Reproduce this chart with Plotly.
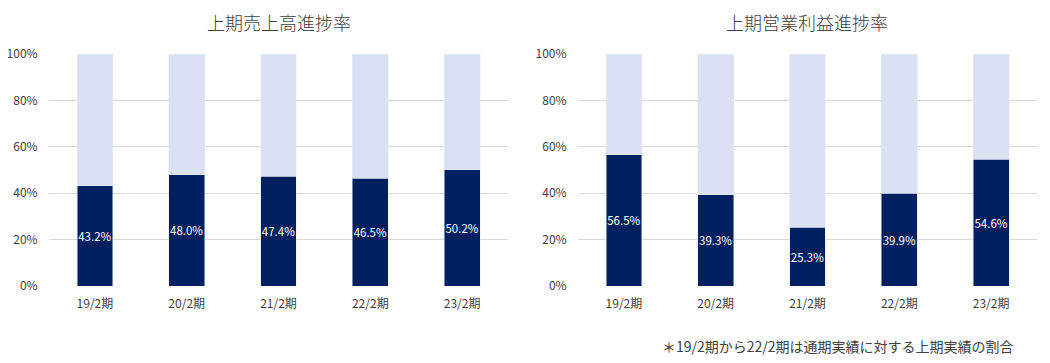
import plotly.graph_objects as go

categories = ["19/2期", "20/2期", "21/2期", "22/2期", "23/2期"]
sales_progress = [43.2, 48.0, 47.4, 46.5, 50.2]
profit_progress = [56.5, 39.3, 25.3, 39.9, 54.6]
titles = ["上期売上高進捗率", "上期営業利益進捗率"]
footnote = "＊19/2期から22/2期は通期実績に対する上期実績の割合"
tick_vals = [0, 20, 40, 60, 80, 100]
tick_text = ["0%", "20%", "40%", "60%", "80%", "100%"]

DARK = "#002060"
LIGHT = "#D9E1F2"
FONT = "Noto Sans CJK JP"

# page body has an 8px margin; positions below are in screenshot pixels
OFF = 8
W, H = 1050 - 2 * OFF, 363 - 2 * OFF


def px(x):
    return (x - OFF) / W


def py(y):
    return 1 - (y - OFF) / H


fig = go.Figure()

for i, vals in enumerate([sales_progress, profit_progress]):
    xa = "x" if i == 0 else "x2"
    ya = "y" if i == 0 else "y2"
    fig.add_trace(go.Bar(
        x=categories, y=vals, marker_color=DARK, width=0.39,
        text=[f"{v:.1f}%" for v in vals], textposition="inside",
        insidetextanchor="middle", textangle=0, constraintext="none",
        textfont=dict(color="white", size=11.5, family=FONT),
        xaxis=xa, yaxis=ya, showlegend=False, hoverinfo="skip"))
    fig.add_trace(go.Bar(
        x=categories, y=[100 - v for v in vals], marker_color=LIGHT, width=0.39,
        xaxis=xa, yaxis=ya, showlegend=False, hoverinfo="skip"))

axis_common_x = dict(showgrid=False, showline=False, zeroline=False, ticks="outside",
                     ticklen=7, tickcolor="rgba(0,0,0,0)", automargin=False,
                     tickfont=dict(size=12, color="#404040", family=FONT), fixedrange=True)
axis_common_y = dict(range=[0, 100], tickvals=tick_vals, ticktext=tick_text,
                     showgrid=True, gridcolor="#D9D9D9", gridwidth=1, zeroline=False,
                     showline=False, ticks="outside", ticklen=8, tickcolor="rgba(0,0,0,0)",
                     automargin=False,
                     tickfont=dict(size=12, color="#404040", family=FONT), fixedrange=True)

fig.update_layout(
    width=W, height=H, barmode="stack",
    margin=dict(l=0, r=0, t=0, b=0),
    paper_bgcolor="white", plot_bgcolor="white",
    font=dict(family=FONT),
    xaxis=dict(domain=[px(49), px(508)], anchor="y", **axis_common_x),
    yaxis=dict(domain=[py(286), py(54)], anchor="x", **axis_common_y),
    xaxis2=dict(domain=[px(578), px(1037)], anchor="y2", **axis_common_x),
    yaxis2=dict(domain=[py(286), py(54)], anchor="x2", **axis_common_y),
    annotations=[
        dict(text=titles[0], x=px(279), y=py(22), xref="paper", yref="paper",
             xanchor="center", yanchor="middle", showarrow=False,
             font=dict(size=18, color="#404040", family=FONT, weight=300)),
        dict(text=titles[1], x=px(807), y=py(22), xref="paper", yref="paper",
             xanchor="center", yanchor="middle", showarrow=False,
             font=dict(size=18, color="#404040", family=FONT, weight=300)),
        dict(text=footnote, x=px(1016), y=py(346), xref="paper", yref="paper",
             xanchor="right", yanchor="middle", showarrow=False,
             font=dict(size=14, color="#404040", family=FONT)),
    ],
)

fig.write_html("out.html")
